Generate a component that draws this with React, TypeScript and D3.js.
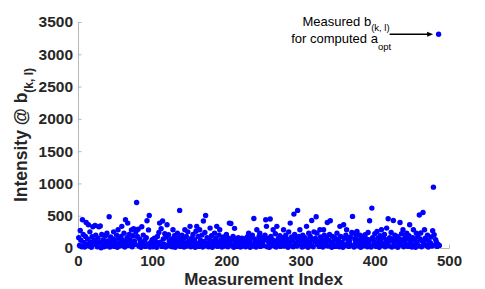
import { useRef, useEffect } from 'react';
import * as d3 from 'd3';

// intensity per measurement index (index starts at 1)
const intensity = [
  160, 40, 270, 120, 20, 437, 210, 85, 15, 180, 396, 60, 140, 360, 30, 250, 95, 10, 175, 330, 55, 120, 350, 200, 70,
  20, 150, 330, 90, 340, 5, 210, 45, 130, 20, 75, 190, 30, 230, 110, 60, 485, 15, 170, 95, 40, 140, 250, 25, 120,
  60, 200, 10, 283, 150, 80, 35, 180, 335, 120, 50, 230, 15, 437, 95, 160, 386, 40, 210, 130, 70, 280, 20, 190, 300,
  110, 55, 250, 705, 180, 290, 30, 140, 90, 10, 330, 70, 200, 45, 120, 25, 160, 422, 60, 280, 504, 15, 85, 40, 130,
  20, 70, 150, 35, 100, 10, 180, 55, 240, 386, 90, 300, 25, 417, 140, 60, 220, 15, 170, 360, 45, 206, 110, 30, 80,
  140, 20, 283, 65, 190, 10, 120, 40, 230, 85, 160, 582, 25, 100, 200, 50, 140, 15, 283, 75, 180, 30, 250, 110, 60,
  335, 20, 150, 90, 210, 40, 130, 10, 260, 335, 70, 180, 25, 283, 120, 55, 200, 15, 417, 100, 240, 504, 35, 160, 80,
  20, 140, 308, 60, 190, 10, 110, 45, 230, 85, 150, 335, 25, 95, 200, 283, 40, 130, 15, 70, 170, 30, 120, 55, 210,
  90, 20, 150, 386, 60, 380, 120, 35, 180, 10, 304, 75, 140, 25, 100, 160, 45, 130, 15, 85, 150, 30, 110, 60, 140,
  20, 90, 170, 40, 230, 120, 10, 150, 65, 200, 30, 458, 140, 80, 15, 283, 110, 55, 180, 230, 25, 130, 70, 160, 40,
  120, 200, 437, 335, 20, 150, 90, 10, 448, 180, 60, 130, 283, 35, 110, 220, 15, 335, 80, 150, 45, 190, 25, 120, 70,
  160, 283, 30, 100, 200, 55, 140, 10, 250, 85, 386, 40, 170, 120, 20, 525, 210, 65, 150, 30, 582, 110, 180, 283, 50,
  140, 15, 200, 90, 30, 160, 60, 335, 120, 10, 230, 75, 180, 40, 427, 130, 20, 250, 95, 150, 484, 230, 55, 110, 25,
  283, 170, 60, 130, 15, 283, 200, 40, 90, 150, 396, 30, 120, 210, 422, 70, 10, 180, 100, 45, 160, 25, 140, 230, 60,
  120, 20, 335, 180, 55, 90, 10, 360, 150, 40, 200, 283, 70, 130, 25, 110, 170, 45, 240, 489, 230, 15, 140, 85, 190,
  257, 35, 120, 60, 200, 10, 150, 90, 30, 180, 110, 206, 50, 140, 20, 240, 75, 422, 130, 15, 618, 160, 45, 100, 220,
  60, 25, 257, 150, 85, 10, 190, 120, 283, 40, 170, 65, 210, 20, 130, 308, 90, 453, 35, 160, 110, 240, 15, 140, 427,
  70, 200, 30, 120, 180, 10, 150, 85, 396, 45, 220, 130, 283, 20, 100, 170, 60, 230, 140, 25, 190, 360, 80, 120, 15,
  160, 283, 50, 130, 10, 230, 90, 180, 35, 510, 140, 232, 20, 110, 550, 70, 283, 150, 40, 130, 200, 15, 100, 60, 77,
  170, 30, 268, 942, 206, 45, 130, 90, 25, 60, 3310, 40,
];
const points = intensity.map((v, i) => ({ index: i + 1, value: v }));

const xTicks = [0, 100, 200, 300, 400, 500];
const yTicks = [0, 500, 1000, 1500, 2000, 2500, 3000, 3500];
const highlightIndex = 486;

const W = 485;
const H = 289;
const MARGIN = { TOP: 22, RIGHT: 36, BOTTOM: 41, LEFT: 78 };
const FONT = '"Liberation Sans", Arial, Helvetica, sans-serif';

const App = () => {
  const ref = useRef<SVGSVGElement>(null);

  useEffect(() => {
    const root = d3.select(ref.current);
    root.selectAll('*').remove();

    const WIDTH = W - MARGIN.LEFT - MARGIN.RIGHT;
    const HEIGHT = H - MARGIN.TOP - MARGIN.BOTTOM;

    const svg = root.append('g')
      .attr('transform', `translate(${MARGIN.LEFT}, ${MARGIN.TOP})`);

    const xScale = d3.scaleLinear().domain([0, 500]).range([0, WIDTH]);
    const yScale = d3.scaleLinear().domain([0, 3500]).range([HEIGHT, 0]);

    const xAxis = svg.append('g')
      .attr('transform', `translate(0, ${HEIGHT})`)
      .call(d3.axisBottom(xScale).tickValues(xTicks).tickFormat(d3.format('d'))
        .tickSize(-3.5).tickSizeOuter(0).tickPadding(7));

    const yAxis = svg.append('g')
      .call(d3.axisLeft(yScale).tickValues(yTicks).tickFormat(d3.format('d'))
        .tickSize(-3.5).tickSizeOuter(0).tickPadding(5));

    [xAxis, yAxis].forEach(ax => {
      ax.select('.domain').attr('stroke', '#a6a6a6').attr('stroke-width', 0.8);
      ax.selectAll('.tick line').attr('stroke', '#a6a6a6').attr('stroke-width', 0.8);
      ax.selectAll('.tick text')
        .attr('fill', '#262626')
        .attr('font-family', FONT)
        .attr('font-weight', 'bold')
        .attr('font-size', '15.5px');
    });
    xAxis.selectAll('.tick text').attr('font-size', '15px');

    svg.append('g')
      .selectAll('circle')
      .data(points)
      .join('circle')
      .attr('cx', d => xScale(d.index))
      .attr('cy', d => yScale(d.value))
      .attr('r', 2.7)
      .attr('fill', '#0000ff');

    // axis labels
    svg.append('text')
      .attr('x', WIDTH / 2)
      .attr('y', HEIGHT + 37)
      .attr('text-anchor', 'middle')
      .attr('font-family', FONT)
      .attr('font-weight', 'bold')
      .attr('font-size', '17px')
      .attr('fill', '#262626')
      .text('Measurement Index');

    const yLabel = svg.append('text')
      .attr('transform', `translate(${-MARGIN.LEFT + 27}, ${HEIGHT / 2}) rotate(-90)`)
      .attr('text-anchor', 'middle')
      .attr('font-family', FONT)
      .attr('font-weight', 'bold')
      .attr('font-size', '17.5px')
      .attr('fill', '#262626');
    yLabel.append('tspan').text('Intensity @ b');
    yLabel.append('tspan').attr('dy', 6).attr('font-size', '12px').text('(k, l)');

    // annotation arrow to the highlighted measurement
    const hp = points.find(p => p.index === highlightIndex)!;
    const px = xScale(hp.index);
    const py = yScale(hp.value);
    const tipX = px - 5.5;
    const startX = px - 49;

    svg.append('line')
      .attr('x1', startX)
      .attr('x2', tipX - 4)
      .attr('y1', py)
      .attr('y2', py)
      .attr('stroke', '#000')
      .attr('stroke-width', 1.6);
    svg.append('path')
      .attr('d', `M${tipX},${py} L${tipX - 6},${py - 2.6} L${tipX - 6},${py + 2.6} Z`)
      .attr('fill', '#000');

    const t1 = svg.append('text')
      .attr('x', startX)
      .attr('y', py - 8)
      .attr('text-anchor', 'end')
      .attr('font-family', FONT)
      .attr('font-size', '13px')
      .attr('fill', '#000');
    t1.append('tspan').text('Measured b');
    t1.append('tspan').attr('dy', 5).attr('font-size', '9.5px').text('(k, l)');

    const t2 = svg.append('text')
      .attr('x', startX + 1.5)
      .attr('y', py + 9)
      .attr('text-anchor', 'end')
      .attr('font-family', FONT)
      .attr('font-size', '13px')
      .attr('fill', '#000');
    t2.append('tspan').text('for computed a');
    t2.append('tspan').attr('dy', 6.5).attr('font-size', '9.5px').text('opt');
  }, []);

  return (
    <div style={{ position: 'fixed', left: 0, top: 0 }}>
      <svg ref={ref} width={W} height={H} style={{ display: 'block', background: '#fff' }} />
    </div>
  );
};

export default App;
